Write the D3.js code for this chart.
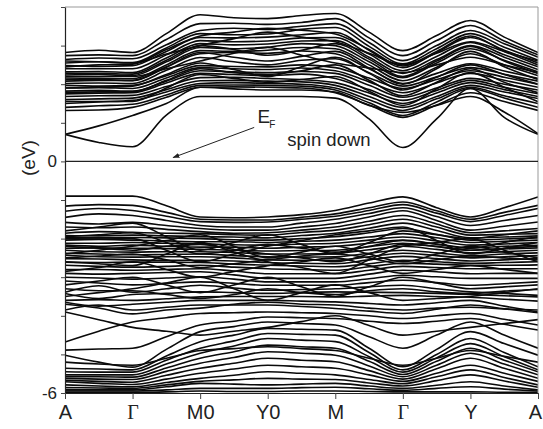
<!DOCTYPE html>
<html><head><meta charset="utf-8">
<script src="https://cdn.jsdelivr.net/npm/d3@7/dist/d3.min.js"></script>
<style>body{margin:0;background:#fff}svg{display:block}</style>
</head><body>
<script>
// k-path labels (high-symmetry points at even indices 0..14; odd = segment midpoints)
const kLabels = ["A","\u0393","M0","Y0","M","\u0393","Y","A"];
const kTickIdx = [0,2,4,6,8,10,12,14];
const yTickValues = [-6,-5,-4,-3,-2,-1,0,1,2,3,4];
const yTickLabels = [-6,0];

// conduction bands (eV), values at A, ., Γ, ., M0, ., Y0, ., M, ., Γ, ., Y, ., A
const conductionBands = [
 [0.70,0.49,0.38,1.20,1.68,1.68,1.68,1.68,1.64,1.10,0.36,1.10,1.89,1.14,0.70],
 [0.70,0.92,1.19,1.50,1.92,1.88,1.85,1.85,1.80,1.45,1.27,1.45,1.68,1.28,0.72],
 [2.82,2.88,2.82,3.31,3.80,3.72,3.70,3.78,3.83,3.35,2.87,3.26,3.65,3.22,2.82],
 [2.74,2.76,2.74,3.16,3.57,3.58,3.55,3.60,3.70,3.20,2.74,3.13,3.52,3.12,2.76],
 [2.64,2.68,2.66,3.02,3.39,3.45,3.42,3.50,3.57,3.08,2.61,3.00,3.39,3.05,2.70],
 [2.55,2.58,2.56,2.94,3.31,3.28,3.30,3.42,3.47,2.98,2.53,2.92,3.31,2.96,2.62],
 [2.48,2.46,2.48,2.85,3.21,3.20,3.22,3.28,3.34,2.88,2.43,2.82,3.21,2.88,2.55],
 [2.40,2.40,2.40,2.76,3.13,3.10,3.12,3.20,3.21,2.78,2.35,2.72,3.08,2.76,2.45],
 [2.32,2.33,2.30,2.68,3.05,3.02,3.04,3.12,3.13,2.70,2.28,2.64,3.00,2.70,2.38],
 [2.24,2.25,2.22,2.58,2.95,2.92,2.96,3.05,3.00,2.58,2.17,2.55,2.92,2.62,2.32],
 [2.16,2.15,2.14,2.50,2.87,2.85,2.88,2.95,2.92,2.50,2.09,2.44,2.79,2.50,2.22],
 [2.08,2.10,2.09,2.44,2.79,2.82,2.80,2.86,2.79,2.40,2.02,2.28,2.53,2.34,2.15],
 [2.02,2.03,2.02,2.36,2.69,2.58,2.50,2.62,2.66,2.30,1.95,2.19,2.43,2.26,2.08],
 [1.97,1.95,1.97,2.22,2.48,2.46,2.45,2.50,2.43,2.16,1.89,2.12,2.35,2.18,2.00],
 [1.90,1.91,1.89,2.16,2.43,2.40,2.38,2.42,2.35,2.06,1.78,2.03,2.28,2.10,1.92],
 [1.82,1.84,1.82,2.08,2.35,2.32,2.30,2.33,2.28,1.97,1.66,1.90,2.15,2.00,1.85],
 [1.75,1.77,1.78,2.03,2.28,2.25,2.22,2.26,2.15,1.86,1.58,1.84,2.10,1.92,1.75],
 [1.68,1.70,1.71,1.94,2.17,2.18,2.15,2.12,2.04,1.77,1.50,1.77,2.04,1.86,1.68],
 [1.60,1.62,1.64,1.86,2.09,2.10,2.08,2.06,1.97,1.68,1.40,1.68,1.97,1.80,1.63],
 [1.50,1.54,1.58,1.80,2.02,2.04,2.02,2.00,1.90,1.60,1.32,1.62,1.92,1.70,1.50],
 [1.40,1.44,1.48,1.72,1.97,1.98,1.97,1.95,1.85,1.52,1.19,1.54,1.89,1.64,1.40],
 [1.32,1.33,1.40,1.66,1.92,1.93,1.92,1.90,1.78,1.46,1.14,1.46,1.78,1.55,1.32],
 [2.20,2.20,2.20,2.40,2.60,2.80,2.95,2.75,2.55,2.42,2.30,2.50,2.70,2.50,2.30],
 [1.90,1.92,1.95,2.25,2.55,2.38,2.20,2.45,2.70,2.28,1.85,2.18,2.50,2.25,2.00],
 [2.60,2.58,2.55,2.78,3.00,3.18,3.35,3.22,3.10,2.80,2.50,2.80,3.10,2.85,2.60],
 [1.55,1.55,1.55,1.90,2.25,2.15,2.05,2.12,2.20,1.82,1.45,1.88,2.30,1.92,1.55],
 [2.45,2.50,2.52,2.90,3.25,3.35,3.45,3.40,3.30,2.90,2.47,2.85,3.25,2.85,2.50],
 [2.12,2.12,2.10,2.45,2.82,2.70,2.60,2.72,2.85,2.42,2.00,2.40,2.85,2.45,2.12],
 [1.78,1.80,1.80,2.10,2.40,2.30,2.25,2.35,2.50,2.10,1.70,2.05,2.40,2.05,1.78],
 [2.28,2.28,2.26,2.62,3.00,2.90,2.75,2.88,3.05,2.65,2.20,2.60,2.98,2.60,2.28]
];

// valence bands (eV)
const valenceBands = [
 [-0.90,-0.90,-0.90,-1.15,-1.44,-1.46,-1.44,-1.38,-1.27,-1.08,-0.92,-1.20,-1.44,-1.20,-0.92],
 [-1.16,-1.12,-1.14,-1.32,-1.50,-1.52,-1.52,-1.45,-1.36,-1.20,-1.05,-1.28,-1.50,-1.32,-1.14],
 [-1.29,-1.22,-1.27,-1.42,-1.56,-1.58,-1.57,-1.50,-1.42,-1.27,-1.12,-1.34,-1.56,-1.40,-1.22],
 [-1.45,-1.36,-1.40,-1.53,-1.66,-1.70,-1.70,-1.60,-1.50,-1.35,-1.20,-1.43,-1.66,-1.53,-1.40],
 [-1.58,-1.62,-1.58,-1.66,-1.74,-1.78,-1.78,-1.70,-1.61,-1.44,-1.28,-1.53,-1.78,-1.68,-1.57],
 [-1.70,-1.72,-1.70,-1.76,-1.82,-1.86,-1.85,-1.78,-1.70,-1.55,-1.40,-1.62,-1.85,-1.80,-1.74],
 [-1.86,-1.82,-1.84,-1.86,-1.87,-1.90,-1.91,-1.84,-1.78,-1.64,-1.50,-1.70,-1.91,-1.89,-1.87],
 [-1.92,-1.93,-1.91,-1.93,-1.95,-1.96,-1.98,-1.92,-1.86,-1.73,-1.60,-1.79,-1.98,-1.96,-1.93],
 [-1.97,-1.98,-1.97,-1.98,-2.00,-2.03,-2.04,-2.00,-1.95,-1.85,-1.74,-1.89,-2.04,-2.01,-1.98],
 [-2.04,-2.02,-2.04,-2.06,-2.08,-2.08,-2.10,-2.07,-2.04,-1.96,-1.87,-1.98,-2.10,-2.07,-2.04],
 [-2.12,-2.12,-2.10,-2.12,-2.13,-2.16,-2.17,-2.14,-2.12,-2.04,-1.96,-2.06,-2.17,-2.14,-2.10],
 [-2.17,-2.20,-2.17,-2.20,-2.22,-2.22,-2.25,-2.22,-2.20,-2.12,-2.04,-2.14,-2.24,-2.20,-2.17],
 [-2.25,-2.24,-2.25,-2.26,-2.28,-2.30,-2.32,-2.31,-2.30,-2.21,-2.12,-2.21,-2.30,-2.27,-2.24],
 [-2.30,-2.34,-2.35,-2.34,-2.34,-2.36,-2.40,-2.40,-2.38,-2.29,-2.20,-2.28,-2.37,-2.34,-2.30],
 [-2.38,-2.40,-2.42,-2.41,-2.40,-2.44,-2.47,-2.48,-2.47,-2.38,-2.30,-2.37,-2.44,-2.40,-2.37],
 [-2.43,-2.47,-2.48,-2.47,-2.47,-2.50,-2.55,-2.56,-2.56,-2.47,-2.38,-2.44,-2.50,-2.47,-2.44],
 [-2.52,-2.53,-2.55,-2.56,-2.56,-2.58,-2.62,-2.64,-2.65,-2.55,-2.46,-2.52,-2.58,-2.55,-2.52],
 [-2.61,-2.62,-2.61,-2.61,-2.62,-2.66,-2.69,-2.71,-2.73,-2.65,-2.56,-2.60,-2.64,-2.62,-2.60],
 [-2.69,-2.72,-2.74,-2.72,-2.69,-2.74,-2.78,-2.80,-2.82,-2.73,-2.64,-2.66,-2.69,-2.69,-2.68],
 [-2.80,-2.80,-2.82,-2.80,-2.78,-2.84,-2.91,-2.91,-2.91,-2.82,-2.72,-2.75,-2.78,-2.78,-2.78],
 [-2.90,-2.92,-2.90,-2.88,-2.86,-2.94,-3.03,-3.03,-3.03,-2.92,-2.82,-2.86,-2.91,-2.90,-2.90],
 [-3.00,-3.02,-3.05,-3.02,-2.99,-3.05,-3.12,-3.12,-3.12,-3.04,-2.95,-2.99,-3.03,-3.03,-3.03],
 [-3.10,-3.15,-3.20,-3.16,-3.12,-3.16,-3.21,-3.21,-3.21,-3.14,-3.08,-3.14,-3.21,-3.17,-3.12],
 [-3.39,-3.22,-3.39,-3.30,-3.21,-3.28,-3.34,-3.32,-3.30,-3.25,-3.21,-3.30,-3.38,-3.42,-3.47],
 [-3.42,-3.55,-3.45,-3.42,-3.38,-3.40,-3.42,-3.40,-3.38,-3.39,-3.40,-3.42,-3.45,-3.48,-3.51],
 [-3.60,-3.58,-3.60,-3.56,-3.51,-3.50,-3.50,-3.50,-3.51,-3.49,-3.47,-3.50,-3.52,-3.57,-3.62],
 [-3.65,-3.75,-3.70,-3.65,-3.60,-3.60,-3.60,-3.62,-3.64,-3.68,-3.72,-3.66,-3.60,-3.75,-3.90],
 [-3.85,-3.72,-3.85,-3.78,-3.72,-3.72,-3.72,-3.76,-3.81,-3.88,-3.94,-3.83,-3.72,-3.82,-3.92],
 [-4.68,-4.40,-4.16,-4.05,-3.94,-3.92,-3.90,-3.92,-3.94,-4.00,-4.07,-4.00,-3.94,-4.09,-4.24],
 [-4.89,-4.86,-4.84,-4.54,-4.24,-4.14,-4.03,-4.05,-4.07,-4.14,-4.20,-4.14,-4.07,-4.22,-4.37],
 [-5.02,-5.20,-5.33,-4.87,-4.41,-4.28,-4.16,-4.20,-4.24,-4.54,-4.84,-4.50,-4.16,-4.50,-4.84],
 [-5.36,-5.38,-5.40,-5.04,-4.67,-4.50,-4.33,-4.35,-4.37,-4.84,-5.32,-4.87,-4.41,-4.72,-5.02],
 [-5.45,-5.46,-5.46,-5.15,-4.84,-4.65,-4.46,-4.48,-4.50,-4.95,-5.40,-5.00,-4.59,-4.95,-5.32],
 [-5.53,-5.53,-5.53,-5.25,-4.97,-4.78,-4.59,-4.63,-4.67,-5.06,-5.46,-5.09,-4.72,-5.06,-5.40],
 [-5.58,-5.58,-5.59,-5.35,-5.10,-4.93,-4.76,-4.80,-4.84,-5.18,-5.52,-5.18,-4.84,-5.15,-5.45],
 [-5.62,-5.64,-5.65,-5.44,-5.23,-5.08,-4.93,-4.97,-5.02,-5.30,-5.58,-5.28,-4.97,-5.25,-5.53],
 [-5.67,-5.70,-5.72,-5.54,-5.36,-5.23,-5.10,-5.15,-5.19,-5.42,-5.64,-5.37,-5.10,-5.36,-5.62],
 [-5.71,-5.75,-5.78,-5.64,-5.49,-5.38,-5.28,-5.32,-5.36,-5.53,-5.70,-5.49,-5.28,-5.49,-5.70],
 [-5.79,-5.82,-5.84,-5.73,-5.62,-5.54,-5.45,-5.49,-5.53,-5.65,-5.76,-5.58,-5.40,-5.60,-5.79],
 [-5.86,-5.87,-5.88,-5.79,-5.70,-5.66,-5.62,-5.64,-5.65,-5.74,-5.82,-5.68,-5.53,-5.69,-5.85],
 [-5.92,-5.92,-5.92,-5.84,-5.75,-5.77,-5.79,-5.77,-5.75,-5.82,-5.88,-5.80,-5.71,-5.82,-5.92],
 [-5.95,-5.95,-5.95,-5.92,-5.88,-5.88,-5.88,-5.86,-5.85,-5.89,-5.93,-5.88,-5.84,-5.90,-5.95],
 [-5.98,-5.98,-5.98,-5.97,-5.95,-5.96,-5.96,-5.95,-5.95,-5.96,-5.97,-5.97,-5.97,-5.98,-5.98],
 [-2.00,-2.01,-2.00,-2.30,-2.60,-2.40,-2.20,-2.05,-1.90,-1.80,-1.70,-2.05,-2.40,-2.25,-2.10],
 [-2.60,-2.65,-2.70,-2.40,-2.10,-2.35,-2.60,-2.75,-2.90,-2.55,-2.20,-2.10,-2.00,-2.30,-2.60],
 [-3.20,-3.10,-3.00,-3.20,-3.40,-3.20,-3.00,-3.25,-3.50,-3.25,-3.00,-3.15,-3.30,-3.25,-3.20],
 [-3.50,-3.40,-3.30,-3.15,-3.00,-3.30,-3.60,-3.40,-3.20,-3.40,-3.60,-3.55,-3.50,-3.40,-3.30],
 [-1.80,-1.70,-1.60,-1.95,-2.30,-2.10,-1.90,-2.15,-2.40,-2.10,-1.80,-1.90,-2.00,-1.90,-1.80],
 [-2.40,-2.30,-2.20,-2.05,-1.90,-2.20,-2.50,-2.35,-2.20,-2.40,-2.60,-2.40,-2.20,-2.35,-2.50],
 [-3.90,-4.10,-4.30,-4.40,-4.50,-4.40,-4.30,-4.15,-4.00,-4.25,-4.50,-4.40,-4.30,-4.20,-4.10],
 [-2.85,-2.75,-2.60,-2.80,-3.00,-2.85,-2.70,-2.60,-2.50,-2.70,-2.90,-2.80,-2.70,-2.80,-2.90],
 [-1.95,-1.90,-1.85,-2.10,-2.40,-2.30,-2.15,-2.25,-2.35,-2.20,-2.05,-2.15,-2.25,-2.10,-1.95],
 [-2.20,-2.25,-2.30,-2.20,-2.15,-2.28,-2.40,-2.50,-2.60,-2.40,-2.15,-2.20,-2.30,-2.25,-2.20],
 [-2.50,-2.45,-2.40,-2.55,-2.75,-2.65,-2.55,-2.45,-2.40,-2.50,-2.65,-2.55,-2.45,-2.50,-2.55],
 [-3.30,-3.35,-3.35,-3.45,-3.55,-3.45,-3.30,-3.40,-3.45,-3.35,-3.30,-3.38,-3.42,-3.36,-3.32],
 [-3.70,-3.80,-3.95,-3.85,-3.80,-3.70,-3.65,-3.70,-3.72,-3.80,-3.85,-3.80,-3.78,-3.82,-3.85],
 [-5.20,-5.25,-5.28,-5.10,-4.90,-4.85,-4.80,-4.85,-4.90,-5.10,-5.28,-5.10,-4.90,-5.05,-5.20]
];

const W = 543, H = 429;
const m = {left:65, right:5, top:7, bottom:36};
const svg = d3.select("body").append("svg").attr("width",W).attr("height",H);
svg.append("rect").attr("width",W).attr("height",H).attr("fill","#fff");

const x = d3.scaleLinear().domain([0,14]).range([m.left, W-m.right]);
const y = d3.scaleLinear().domain([-6,4]).range([H-m.bottom, m.top]);

svg.append("clipPath").attr("id","clip").append("rect")
  .attr("x",m.left).attr("y",m.top).attr("width",W-m.right-m.left).attr("height",H-m.bottom-m.top);

const line = d3.line().x((d,i)=>x(i)).y(d=>y(d)).curve(d3.curveMonotoneX);
const g = svg.append("g").attr("clip-path","url(#clip)");
g.selectAll("path.band").data(conductionBands.concat(valenceBands)).join("path")
  .attr("class","band").attr("d",line).attr("fill","none")
  .attr("stroke","#0a0a0a").attr("stroke-width",1.6);

// frame
svg.append("line").attr("x1",m.left).attr("x2",W-m.right).attr("y1",m.top).attr("y2",m.top)
  .attr("stroke","#999").attr("stroke-width",1);
svg.append("line").attr("x1",W-m.right).attr("x2",W-m.right).attr("y1",m.top).attr("y2",H-m.bottom)
  .attr("stroke","#999").attr("stroke-width",1);
// Fermi level
svg.append("line").attr("x1",m.left).attr("x2",W-m.right).attr("y1",y(0)).attr("y2",y(0))
  .attr("stroke","#222").attr("stroke-width",1.2);

// axes
const yAxis = d3.axisLeft(y).tickValues(yTickValues).tickSize(4).tickSizeOuter(0)
  .tickFormat(d => yTickLabels.includes(d) ? String(d) : "");
const ya = svg.append("g").attr("transform",`translate(${m.left},0)`).call(yAxis);
ya.selectAll("text").attr("font-family","Liberation Sans, Arial, sans-serif").attr("font-size",17).attr("fill","#222").attr("dx","-1");
ya.select(".domain").attr("stroke","#222").attr("stroke-width",1.2);
ya.selectAll(".tick line").attr("stroke","#444");

const xAxis = d3.axisBottom(x).tickValues(kTickIdx).tickSize(6).tickSizeOuter(0)
  .tickFormat((d,i)=>kLabels[i]);
const xa = svg.append("g").attr("transform",`translate(0,${H-m.bottom})`).call(xAxis);
xa.selectAll("text").attr("font-size",20).attr("fill","#222").attr("dy","0.85em")
  .attr("dx", d => d === 14 ? "-3" : "0")
  .attr("font-family", d => kLabels[kTickIdx.indexOf(d)] === "\u0393" ? "Liberation Serif, Times New Roman, serif" : "Liberation Sans, Arial, sans-serif");
xa.select(".domain").attr("stroke","#222").attr("stroke-width",1.2);
xa.selectAll(".tick line").attr("stroke","#444");

// y label
svg.append("text").attr("transform","translate(35,158) rotate(-90)")
  .attr("text-anchor","middle").attr("font-family","Liberation Sans, Arial, sans-serif")
  .attr("font-size",19).attr("fill","#222").text("(eV)");

// annotations
const defs = svg.append("defs");
defs.append("marker").attr("id","arr").attr("viewBox","0 0 10 10").attr("refX",9).attr("refY",5)
  .attr("markerWidth",7).attr("markerHeight",7).attr("orient","auto")
  .append("path").attr("d","M0,1.5 L10,5 L0,8.5 Z").attr("fill","#222");
svg.append("line").attr("x1",x(5.6)).attr("y1",y(0.88)).attr("x2",x(3.2)).attr("y2",y(0.1))
  .attr("stroke","#222").attr("stroke-width",1).attr("marker-end","url(#arr)");
const ef = svg.append("text").attr("x",x(5.7)).attr("y",y(1.0)).attr("font-family","Liberation Sans, Arial, sans-serif")
  .attr("font-size",19).attr("fill","#222");
ef.append("tspan").attr("fill","#222").text("E");
ef.append("tspan").attr("fill","#222").attr("font-size",10).attr("dy",5).attr("dx",-1).text("F");
svg.append("text").attr("x",x(6.58)).attr("y",y(0.39)).attr("font-family","Liberation Sans, Arial, sans-serif")
  .attr("font-size",18.5).attr("fill","#222").text("spin down");
</script>
</body></html>
